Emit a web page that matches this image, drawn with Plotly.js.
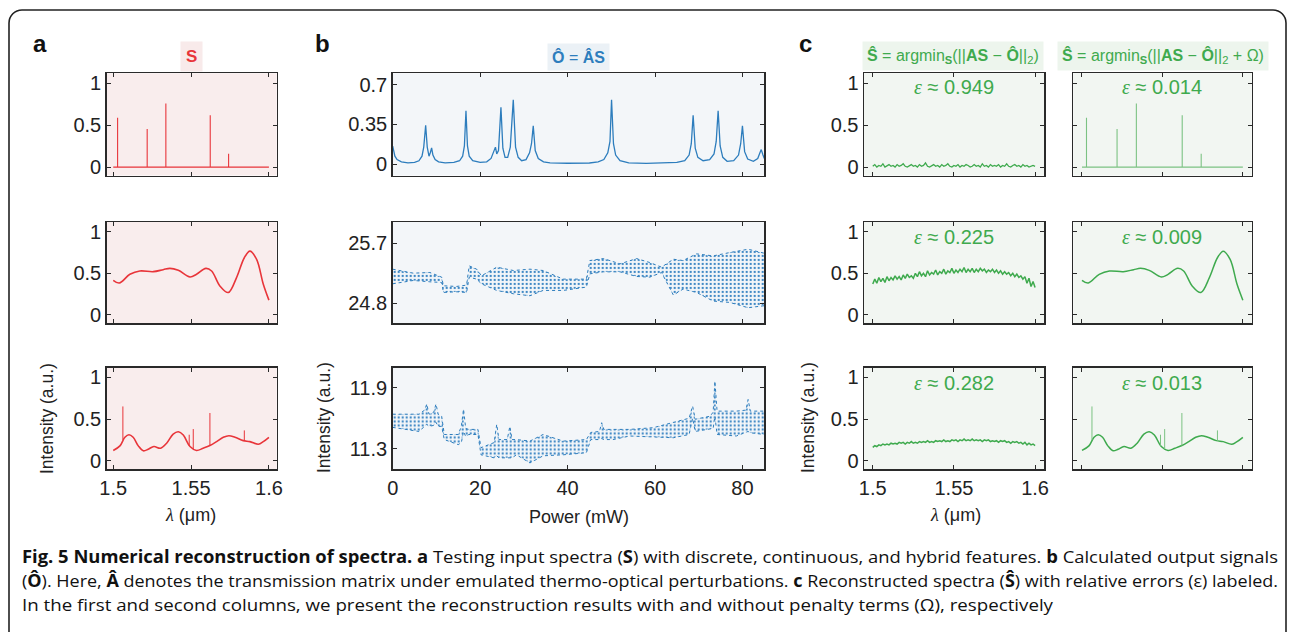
<!DOCTYPE html>
<html><head><meta charset="utf-8">
<script src="https://cdn.plot.ly/plotly-3.0.1.min.js"></script>
<style>
html,body{margin:0;padding:0;background:#fff;}
#wrap{position:relative;width:1292px;height:632px;overflow:hidden;}
#plot{position:absolute;left:0;top:0;width:1292px;height:632px;}
#over{position:absolute;left:0;top:0;pointer-events:none;}
</style></head>
<body><div id="wrap"><div id="plot"></div>
<svg id="over" width="1292" height="632" xmlns="http://www.w3.org/2000/svg">
<rect x="9" y="10" width="1277" height="650" rx="13" ry="13" fill="none" stroke="#222" stroke-width="1.6"/>
<g font-family="'Open Sans','Noto Sans',sans-serif" font-size="17" fill="#111">
<text x="22" y="563" textLength="1256" lengthAdjust="spacingAndGlyphs"><tspan font-weight="bold">Fig. 5 Numerical reconstruction of spectra. a</tspan> Testing input spectra (<tspan font-weight="bold">S</tspan>) with discrete, continuous, and hybrid features. <tspan font-weight="bold">b</tspan> Calculated output signals</text>
<text x="22" y="587" textLength="1256" lengthAdjust="spacingAndGlyphs">(<tspan font-weight="bold">Ô</tspan>). Here, <tspan font-weight="bold">Â</tspan> denotes the transmission matrix under emulated thermo-optical perturbations. <tspan font-weight="bold">c</tspan> Reconstructed spectra (<tspan font-weight="bold">Ŝ</tspan>) with relative errors (ε) labeled.</text>
<text x="22" y="611" textLength="1031" lengthAdjust="spacingAndGlyphs">In the first and second columns, we present the reconstruction results with and without penalty terms (Ω), respectively</text>
</g>
</svg></div>
<script>
// ---------- data ----------
const discreteL = [1.5028, 1.5218, 1.5338, 1.5623, 1.5741];
const discreteH = [0.59, 0.456, 0.76, 0.62, 0.16];

const contL = [1.5,1.5039,1.5107,1.5171,1.5257,1.5321,1.5364,1.5418,1.5493,1.5535,1.5595,1.5632,1.5685,1.5739,1.5792,1.5842,1.5878,1.5921,1.5964,1.6];
const contV = [0.416,0.384,0.488,0.528,0.52,0.544,0.56,0.536,0.456,0.488,0.56,0.528,0.348,0.268,0.448,0.688,0.768,0.668,0.368,0.176];

const hybL = [1.5,1.5043,1.5075,1.5101,1.5128,1.5161,1.5193,1.5225,1.5261,1.5304,1.5343,1.5385,1.5418,1.545,1.5493,1.5535,1.5578,1.5621,1.5664,1.5707,1.5743,1.5782,1.5835,1.5878,1.5932,1.5964,1.6];
const hybV = [0.123,0.178,0.281,0.312,0.281,0.178,0.119,0.138,0.17,0.15,0.21,0.32,0.348,0.308,0.17,0.123,0.15,0.182,0.229,0.281,0.30,0.281,0.241,0.229,0.198,0.229,0.281];
const spkL = [1.5062,1.5488,1.5514,1.5621,1.5842];
const spkTop = [0.652,0.312,0.38,0.573,0.364];
const spkBase = [0.25,0.18,0.14,0.18,0.24];

const b1P = [0,0.5,1,2,3.5,5,6,6.7,7.1,7.54,7.9,8.3,8.6,8.9,9.2,9.7,10.5,12,14,15.3,16,16.4,16.76,17.1,17.5,18.3,20,21.5,22.5,23.2,23.5,23.8,24.2,24.76,25.2,25.7,26.3,26.9,27.58,28.1,28.7,29.5,30.5,31.3,31.75,32.15,32.6,33.3,34.5,36,40,45,47,48.3,49.2,49.7,50.06,50.5,51,52,54,58,62,65,66.8,67.8,68.3,68.72,69.2,69.8,71,72.5,73.5,74.0,74.44,74.9,75.5,76.5,78,79.1,79.6,80.0,80.5,81.2,82.5,83.5,84.0,84.3,84.7,85];
const b1V = [0.158,0.07,0.04,0.02,0.012,0.015,0.03,0.07,0.15,0.343,0.15,0.07,0.1,0.143,0.08,0.04,0.02,0.012,0.015,0.03,0.07,0.16,0.47,0.16,0.07,0.03,0.015,0.02,0.05,0.12,0.15,0.09,0.12,0.5,0.14,0.06,0.06,0.15,0.566,0.15,0.06,0.03,0.04,0.1,0.18,0.337,0.12,0.05,0.02,0.012,0.008,0.01,0.02,0.04,0.1,0.2,0.566,0.18,0.08,0.03,0.012,0.006,0.008,0.015,0.03,0.08,0.18,0.43,0.14,0.06,0.03,0.04,0.09,0.2,0.47,0.16,0.06,0.025,0.03,0.08,0.18,0.337,0.11,0.045,0.025,0.05,0.1,0.128,0.08,0.05];

const b2P  = [0,4.7,8.5,11.2,11.6,14.6,16.9,17.5,19.2,20.3,23.8,27.6,31.4,34.4,39,44.3,45.1,48.2,52,55.8,58.8,61.5,64.2,66.4,69.5,73.3,77.1,81.3,85];
const b2Up = [25.31,25.25,25.26,25.19,25.06,25.05,25.07,25.36,25.31,25.21,25.34,25.29,25.31,25.29,25.16,25.16,25.44,25.47,25.39,25.47,25.41,25.34,25.46,25.44,25.54,25.51,25.56,25.61,25.55];
const b2Lo = [25.09,25.14,25.12,25.11,24.96,24.97,24.96,25.19,25.16,25.09,24.99,24.94,24.91,24.99,24.99,25.04,25.24,25.27,25.27,25.20,25.19,25.26,24.92,25.01,24.96,24.83,24.81,24.73,24.76];

const b3P  = [0,6.0,7.3,7.8,8.3,9.4,9.9,10.4,11.2,11.8,15.0,15.7,16.2,16.7,17.4,19.5,20.2,23.2,23.8,24.3,26.2,26.8,27.3,28.3,31.4,34.4,39,44.3,45.3,47.3,47.8,48.3,50.4,54.2,59.6,64.2,67.8,68.6,69.2,72.6,73.3,73.7,74.2,78.6,80.8,81.3,81.8,85];
const b3Up = [11.64,11.64,11.68,11.74,11.64,11.66,11.74,11.64,11.62,11.44,11.44,11.52,11.69,11.50,11.49,11.49,11.31,11.36,11.54,11.39,11.39,11.52,11.39,11.39,11.375,11.44,11.375,11.39,11.46,11.47,11.556,11.49,11.49,11.49,11.507,11.562,11.60,11.72,11.59,11.62,11.66,11.966,11.67,11.67,11.68,11.785,11.67,11.67];
const b3Lo = [11.51,11.47,11.52,11.54,11.52,11.53,11.56,11.52,11.52,11.39,11.34,11.36,11.47,11.42,11.44,11.44,11.24,11.21,11.23,11.21,11.21,11.21,11.21,11.24,11.16,11.23,11.24,11.26,11.39,11.39,11.40,11.39,11.39,11.425,11.418,11.408,11.44,11.60,11.47,11.49,11.50,11.62,11.44,11.425,11.46,11.47,11.457,11.44];

const rec1 = [0.01,0.03,0.00,0.02,0.01,0.04,0.00,0.02,0.03,0.01,0.02,0.00,0.03,0.01,0.02,0.04,0.01,0.00,0.02,0.03,0.01,0.02,0.00,0.03,0.01,0.02,0.05,0.01,0.00,0.02,0.03,0.01,0.02,0.00,0.03,0.01,0.02,0.04,0.01,0.00,0.02,0.01,0.03,0.00,0.02,0.01,0.03,0.02,0.00,0.01,0.03,0.01,0.02,0.00,0.04,0.01,0.02,0.00,0.03,0.01,0.02,0.01,0.03,0.00,0.02,0.01,0.04,0.01,0.00,0.02,0.03,0.01,0.02,0.00,0.03,0.01,0.02,0.00,0.01,0.02,0.01];
const rec2 = [0.37,0.43,0.38,0.45,0.40,0.44,0.39,0.46,0.41,0.45,0.42,0.47,0.43,0.46,0.42,0.48,0.44,0.49,0.45,0.47,0.44,0.50,0.46,0.52,0.47,0.50,0.46,0.53,0.48,0.51,0.49,0.54,0.48,0.52,0.50,0.55,0.49,0.53,0.51,0.56,0.50,0.54,0.51,0.55,0.52,0.57,0.51,0.55,0.52,0.56,0.51,0.55,0.52,0.56,0.53,0.55,0.51,0.54,0.52,0.55,0.51,0.54,0.50,0.53,0.49,0.52,0.49,0.51,0.47,0.50,0.46,0.49,0.45,0.47,0.43,0.46,0.38,0.44,0.34,0.40,0.33];
const rec3 = [0.16,0.18,0.17,0.19,0.18,0.20,0.19,0.20,0.19,0.21,0.20,0.21,0.20,0.22,0.21,0.22,0.20,0.22,0.21,0.23,0.21,0.22,0.21,0.23,0.22,0.23,0.22,0.24,0.22,0.23,0.22,0.24,0.23,0.24,0.23,0.25,0.23,0.24,0.23,0.25,0.24,0.25,0.23,0.25,0.24,0.26,0.24,0.25,0.24,0.26,0.24,0.25,0.24,0.25,0.23,0.25,0.24,0.25,0.23,0.24,0.23,0.24,0.22,0.24,0.23,0.24,0.22,0.23,0.21,0.23,0.22,0.23,0.21,0.22,0.20,0.22,0.19,0.21,0.19,0.20,0.18];
const recStep = 0.00125; // wavelength sampling of reconstructions (um)

const errNoPen = ['0.949','0.225','0.282'];
const errPen = ['0.014','0.009','0.013'];

// ---------- styling ----------
const W=1292,H=632;
const RED='#e8353a', BLUE='#2d7dbd', GREEN='#3faa4e', GREENL='#7cc283';
const colX=[[106.7,276.7],[392.7,764.3],[864,1044],[1073.3,1251.7]];
const rowY=[[73.3,175.5],[222,323],[367.5,469]];
const colBg=['#f9eded','#f3f6f9','#f2f6f2'];
const FONT="'Liberation Sans', Arial, Helvetica, sans-serif";
const layout={width:W,height:H,margin:{l:0,r:0,t:0,b:0},paper_bgcolor:'#fff',plot_bgcolor:'rgba(0,0,0,0)',
  showlegend:false,font:{family:FONT,size:18,color:'#222'},shapes:[],annotations:[]};
const traces=[];
function axName(n){return n>1?String(n):'';}
const lamGrid = rec1.map((_,i)=>+(1.5+i*recStep).toFixed(5));

for(let r=0;r<3;r++){for(let c=0;c<4;c++){
  const n=r*4+c+1, s=axName(n);
  const xd=[colX[c][0]/W,colX[c][1]/W], yd=[1-rowY[r][1]/H,1-rowY[r][0]/H];
  const base={showline:true,mirror:'ticks',linecolor:'#2a2a2a',linewidth:1.5,ticks:'inside',ticklen:4,tickwidth:1,tickcolor:'#2a2a2a',
    zeroline:false,showgrid:false,fixedrange:true,tickfont:{family:FONT,size:20,color:'#222'}};
  let xa=Object.assign({},base,{domain:xd,anchor:'y'+s});
  let ya=Object.assign({},base,{domain:yd,anchor:'x'+s});
  if(c===1){
    xa.range=[0,85]; xa.tickvals=[0,20,40,60,80];
    if(r===0){ya.range=[-0.1,0.8];ya.tickvals=[0,0.35,0.7];ya.ticktext=['0','0.35','0.7'];}
    if(r===1){ya.range=[24.5,26.02];ya.tickvals=[24.8,25.7];ya.ticktext=['24.8','25.7'];}
    if(r===2){ya.range=[11.1,12.1];ya.tickvals=[11.3,11.9];ya.ticktext=['11.3','11.9'];}
  } else {
    xa.range = c===0?[1.4958,1.6050]:[1.4946,1.6055];
    xa.tickvals=[1.5,1.55,1.6]; xa.ticktext=['1.5','1.55','1.6'];
    ya.range=[-0.1,1.12]; ya.tickvals=[0,0.5,1]; ya.ticktext=['0','0.5','1'];
  }
  if(r<2) xa.showticklabels=false;
  if(r===2 && c===3) xa.showticklabels=false;
  if(c===3) ya.showticklabels=false;
  layout['xaxis'+s]=xa; layout['yaxis'+s]=ya;
  layout.shapes.push({type:'rect',xref:'x'+s+' domain',yref:'y'+s+' domain',x0:0,x1:1,y0:0,y1:1,
    fillcolor:colBg[Math.min(c,2)],line:{width:0},layer:'below'});
}}
function ax(r,c){const n=r*4+c+1;return {xaxis:'x'+axName(n),yaxis:'y'+axName(n)};}
function spikeTrace(L,Hh,color,width){
  const x=[1.5],y=[0];
  L.forEach((p,i)=>{x.push(p,p,p);y.push(0,Hh[i],0);});
  x.push(1.6);y.push(0);
  return {x,y,mode:'lines',line:{color,width},hoverinfo:'skip'};
}
function segTrace(L,B,T,color,width){
  const x=[],y=[];
  L.forEach((p,i)=>{x.push(p,p,null);y.push(B[i],T[i],null);});
  return {x,y,mode:'lines',line:{color,width},hoverinfo:'skip'};
}
function smooth(L,V,color,width){return {x:L,y:V,mode:'lines',line:{color,width,shape:'spline',smoothing:1},hoverinfo:'skip'};}
function band(P,Lo,Up){
  return [
    {x:P,y:Lo,mode:'lines',line:{color:BLUE,width:1,dash:'dot'},hoverinfo:'skip'},
    {x:P,y:Up,mode:'lines',line:{color:BLUE,width:1,dash:'dot'},fill:'tonexty',fillcolor:'rgba(45,125,189,0.12)',
     fillpattern:{shape:'.',fgcolor:'#3b86c4',bgcolor:'rgba(0,0,0,0)',size:4,solidity:0.25},hoverinfo:'skip'}
  ];
}
// column a
traces.push(Object.assign(spikeTrace(discreteL,discreteH,RED,1.1),ax(0,0)));
traces.push(Object.assign(smooth(contL,contV,RED,1.6),ax(1,0)));
traces.push(Object.assign(smooth(hybL,hybV,RED,1.6),ax(2,0)));
traces.push(Object.assign(segTrace(spkL,spkBase,spkTop,RED,1),ax(2,0)));
// column b
traces.push(Object.assign({x:b1P,y:b1V,mode:'lines',line:{color:BLUE,width:1.3},hoverinfo:'skip'},ax(0,1)));
band(b2P,b2Lo,b2Up).forEach(t=>traces.push(Object.assign(t,ax(1,1))));
band(b3P,b3Lo,b3Up).forEach(t=>traces.push(Object.assign(t,ax(2,1))));
// column c1 (no penalty)
traces.push(Object.assign({x:lamGrid,y:rec1,mode:'lines',line:{color:GREEN,width:1.3},hoverinfo:'skip'},ax(0,2)));
traces.push(Object.assign({x:lamGrid,y:rec2,mode:'lines',line:{color:GREEN,width:1.5},hoverinfo:'skip'},ax(1,2)));
traces.push(Object.assign({x:lamGrid,y:rec3,mode:'lines',line:{color:GREEN,width:1.5},hoverinfo:'skip'},ax(2,2)));
// column c2 (penalty)
traces.push(Object.assign(spikeTrace(discreteL,discreteH,GREENL,1.1),ax(0,3)));
traces.push(Object.assign(smooth(contL,contV,GREEN,1.5),ax(1,3)));
traces.push(Object.assign(smooth(hybL,hybV,GREEN,1.5),ax(2,3)));
traces.push(Object.assign(segTrace(spkL,spkBase,spkTop,GREENL,1),ax(2,3)));

// ---------- annotations ----------
function ann(text,px,py,opt){
  layout.annotations.push(Object.assign({text,xref:'paper',yref:'paper',x:px/W,y:1-py/H,xanchor:'center',yanchor:'middle',
    showarrow:false,font:{family:FONT,size:17,color:'#222'}},opt||{}));
}
ann('<b>a</b>',40,43,{font:{family:FONT,size:24,color:'#111'}});
ann('<b>b</b>',322,43,{font:{family:FONT,size:24,color:'#111'}});
ann('<b>c</b>',805,43,{font:{family:FONT,size:24,color:'#111'}});
ann('<b>S</b>',191,56,{font:{family:FONT,size:17,color:RED},bgcolor:'#f8eaea',borderpad:5});
ann('<b>Ô</b> = <b>ÂS</b>',578,57,{font:{family:FONT,size:16,color:BLUE},bgcolor:'#ebf1f6',borderpad:4});
ann('<b>Ŝ</b> = argmin<sub><b>S</b></sub>(||<b>AS</b> − <b>Ô</b>||<sub>2</sub>)',953,56,{font:{family:FONT,size:16,color:GREEN},bgcolor:'#edf5ed',borderpad:4});
ann('<b>Ŝ</b> = argmin<sub><b>S</b></sub>(||<b>AS</b> − <b>Ô</b>||<sub>2</sub> + Ω)',1163,56,{font:{family:FONT,size:16,color:GREEN},bgcolor:'#edf5ed',borderpad:4});
const epsY=[87,237,383];
const EPS='<span style="font-family:\'Liberation Serif\',serif;font-style:italic">ε</span>';
for(let r=0;r<3;r++){
  ann(EPS+' ≈ '+errNoPen[r],954,epsY[r],{font:{family:FONT,size:20,color:GREEN}});
  ann(EPS+' ≈ '+errPen[r],1162,epsY[r],{font:{family:FONT,size:20,color:GREEN}});
}
ann('Intensity (a.u.)',47,418,{textangle:-90,font:{family:FONT,size:17.5,color:'#222'}});
ann('Intensity (a.u.)',324,418,{textangle:-90,font:{family:FONT,size:17.5,color:'#222'}});
ann('Intensity (a.u.)',808,418,{textangle:-90,font:{family:FONT,size:17.5,color:'#222'}});
const LAM='<span style="font-family:\'Liberation Serif\',serif;font-style:italic">λ</span> (μm)';
ann(LAM,190,515,{font:{family:FONT,size:18,color:'#222'}});
ann(LAM,955,515,{font:{family:FONT,size:18,color:'#222'}});
ann('Power (mW)',579,517,{font:{family:FONT,size:18,color:'#222'}});

Plotly.newPlot('plot',traces,layout,{staticPlot:true,displayModeBar:false});
</script></body></html>
